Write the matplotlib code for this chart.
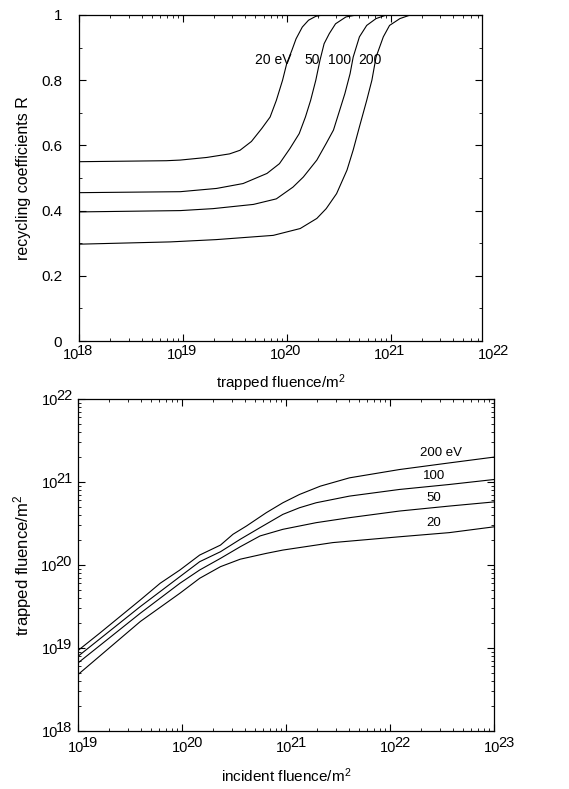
import numpy as np
import matplotlib.pyplot as plt
from matplotlib.ticker import MultipleLocator, LogLocator, NullFormatter

plt.rcParams['font.family'] = ['Liberation Sans', 'DejaVu Sans']
plt.rcParams['mathtext.default'] = 'regular'

# top panel: recycling coefficient R vs trapped fluence (x given as log10)
r_logx_20 = [18.0, 18.84, 18.975, 19.23, 19.45, 19.55, 19.66, 19.76, 19.84, 19.90, 19.96, 20.0,
             20.05, 20.09, 20.15, 20.21, 20.28, 20.35, 21.41]
r_20 = [0.55, 0.553, 0.555, 0.563, 0.574, 0.585, 0.612, 0.652, 0.687, 0.738, 0.80, 0.851,
        0.892, 0.927, 0.963, 0.984, 0.996, 1.0, 1.0]
r_logx_50 = [18.0, 18.975, 19.325, 19.58, 19.81, 19.93, 20.03, 20.12, 20.18, 20.23, 20.28, 20.32,
             20.36, 20.41, 20.47, 20.57, 20.67, 21.41]
r_50 = [0.455, 0.458, 0.468, 0.483, 0.514, 0.544, 0.590, 0.636, 0.687, 0.738, 0.80, 0.861,
        0.912, 0.943, 0.973, 0.994, 1.0, 1.0]
r_logx_100 = [18.0, 18.975, 19.29, 19.68, 19.90, 20.06, 20.16, 20.29, 20.38, 20.45, 20.51, 20.56,
              20.61, 20.64, 20.70, 20.77, 20.86, 20.96, 21.41]
r_100 = [0.396, 0.40, 0.406, 0.419, 0.436, 0.472, 0.503, 0.555, 0.606, 0.647, 0.708, 0.759,
         0.820, 0.871, 0.933, 0.968, 0.989, 1.0, 1.0]
r_logx_200 = [18.0, 18.88, 19.32, 19.87, 20.13, 20.29, 20.38, 20.48, 20.58, 20.64, 20.70, 20.77,
              20.82, 20.86, 20.93, 20.99, 21.09, 21.19, 21.41]
r_200 = [0.297, 0.304, 0.311, 0.324, 0.345, 0.376, 0.406, 0.452, 0.524, 0.586, 0.657, 0.738,
         0.80, 0.871, 0.933, 0.968, 0.989, 1.0, 1.0]

# bottom panel: trapped fluence vs incident fluence (both log10)
t_logx_200 = [19.0, 19.21, 19.60, 19.79, 19.98, 20.17, 20.37, 20.49, 20.62, 20.81, 20.97, 21.13,
              21.33, 21.61, 22.09, 22.57, 23.0]
t_logy_200 = [18.97, 19.18, 19.58, 19.78, 19.94, 20.12, 20.24, 20.37, 20.47, 20.63, 20.75, 20.85,
              20.95, 21.05, 21.15, 21.23, 21.30]
t_logx_100 = [19.0, 19.60, 19.98, 20.17, 20.37, 20.56, 20.75, 20.97, 21.13, 21.29, 21.61, 22.09,
              22.57, 23.0]
t_logy_100 = [18.90, 19.50, 19.86, 20.04, 20.16, 20.31, 20.45, 20.61, 20.69, 20.75, 20.83, 20.91,
              20.97, 21.03]
t_logx_50 = [19.0, 19.60, 19.98, 20.17, 20.37, 20.56, 20.75, 20.97, 21.29, 21.61, 22.09, 22.57, 23.0]
t_logy_50 = [18.82, 19.42, 19.78, 19.94, 20.08, 20.22, 20.35, 20.43, 20.51, 20.57, 20.65, 20.71, 20.76]
t_logx_20 = [19.0, 19.60, 19.98, 20.17, 20.37, 20.56, 20.81, 20.97, 21.45, 22.09, 22.57, 23.0]
t_logy_20 = [18.68, 19.32, 19.66, 19.84, 19.98, 20.07, 20.14, 20.18, 20.27, 20.34, 20.39, 20.46]

top_labels = ['20 eV', '50', '100', '200']
top_label_logx = [20.05, 20.32, 20.62, 20.91]
top_label_r = 0.861
bot_labels = ['200 eV', '100', '50', '20']
bot_label_logx = [22.29, 22.32, 22.35, 22.35]
bot_label_logy = [21.35, 21.07, 20.81, 20.51]

top_xexp = [18, 19, 20, 21, 22]
bot_xexp = [19, 20, 21, 22, 23]
bot_yexp = [18, 19, 20, 21, 22]
top_yticks = [0, 0.2, 0.4, 0.6, 0.8, 1.0]
top_yticklabels = ['0', '0.2', '0.4', '0.6', '0.8', '1']

fig = plt.figure(figsize=(5.69, 7.89), dpi=100)
ax1 = fig.add_axes([0.1388, 0.5678, 0.7083, 0.4132])
ax2 = fig.add_axes([0.1371, 0.0735, 0.7311, 0.4208])

lw = 0.8
for lx, r in [(r_logx_20, r_20), (r_logx_50, r_50), (r_logx_100, r_100), (r_logx_200, r_200)]:
    ax1.plot(10 ** np.array(lx), r, color='black', lw=lw)
for lx, ly in [(t_logx_200, t_logy_200), (t_logx_100, t_logy_100),
               (t_logx_50, t_logy_50), (t_logx_20, t_logy_20)]:
    ax2.plot(10 ** np.array(lx), 10 ** np.array(ly), color='black', lw=lw)

for t, lx in zip(top_labels, top_label_logx):
    ax1.text(10 ** lx, top_label_r, t, ha='right', va='center', fontsize=10)
for t, lx, ly in zip(bot_labels, bot_label_logx, bot_label_logy):
    ax2.text(10 ** lx, 10 ** ly, t, ha='left', va='center', fontsize=9.5)

ax1.set_xscale('log')
ax1.set_xlim(1e18, 10 ** 21.88)
ax1.set_ylim(0, 1)
ax1.set_yticks(top_yticks)
ax1.set_yticklabels(top_yticklabels)
ax1.yaxis.set_minor_locator(MultipleLocator(0.1))
ax1.tick_params(axis='y', labelsize=11, pad=12)
ax1.set_ylabel('recycling coefficients R', fontsize=11.5)
ax1.yaxis.set_label_coords(-0.12, 0.5)
ax1.set_xlabel('trapped fluence/m$^2$', fontsize=11)
ax1.xaxis.set_label_coords(0.5, -0.095)

ax2.set_xscale('log')
ax2.set_yscale('log')
ax2.set_xlim(1e19, 1e23)
ax2.set_ylim(1e18, 1e22)
ax2.set_ylabel('trapped fluence/m$^2$', fontsize=12)
ax2.yaxis.set_label_coords(-0.105, 0.5)
ax2.set_xlabel('incident fluence/m$^2$', fontsize=11)
ax2.xaxis.set_label_coords(0.5, -0.108)

axes_list = [(ax1, [ax1.xaxis]), (ax2, [ax2.xaxis, ax2.yaxis])]
for ax, axs in axes_list:
    for axis in axs:
        axis.set_major_locator(LogLocator(base=10, numticks=10))
        axis.set_minor_locator(LogLocator(base=10, subs=np.arange(2, 10), numticks=10))
        axis.set_major_formatter(NullFormatter())
        axis.set_minor_formatter(NullFormatter())
    ax.tick_params(which='both', direction='in', top=True, right=True)
    ax.tick_params(which='major', length=5, width=0.8)
    ax.tick_params(which='minor', length=2.5, width=0.6)
    for s in ax.spines.values():
        s.set_linewidth(0.9)

fs_tick = 10.5


# power-of-ten tick labels with a large exponent, as in the original
def xlabel_pow(ax, e, dx, dy_base, dy_exp):
    base = ax.annotate('10', xy=(10.0 ** e, 0), xycoords=ax.get_xaxis_transform(),
                       xytext=(dx, dy_base), textcoords='offset pixels',
                       ha='right', va='top', fontsize=fs_tick, annotation_clip=False)
    ax.annotate(str(e), xy=(1, 1), xycoords=base, xytext=(-2, dy_exp),
                textcoords='offset pixels', ha='left', va='top', fontsize=fs_tick)


def ylabel_pow(ax, e, dx):
    ex = ax.annotate(str(e), xy=(0, 10.0 ** e), xycoords=ax.get_yaxis_transform(),
                     xytext=(dx, 3), textcoords='offset pixels',
                     ha='right', va='center', fontsize=fs_tick, annotation_clip=False)
    ax.annotate('10', xy=(0, 0.5), xycoords=ex, xytext=(2, -5),
                textcoords='offset pixels', ha='right', va='center', fontsize=fs_tick)


for e in top_xexp:
    xlabel_pow(ax1, e, 0, -7, 4)
for e in bot_xexp:
    xlabel_pow(ax2, e, 6, -10, 5)
for e in bot_yexp:
    ylabel_pow(ax2, e, -6)

fig.savefig('out.png', dpi=100)
